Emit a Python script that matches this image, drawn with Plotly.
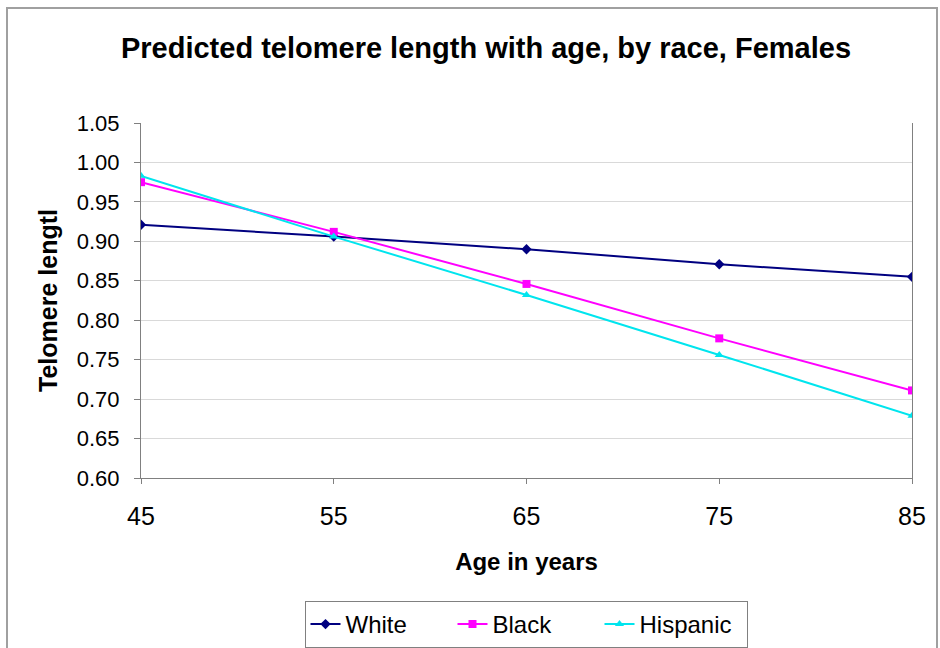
import plotly.graph_objects as go

ages = [45, 55, 65, 75, 85]
white = [0.921, 0.906, 0.890, 0.871, 0.855]
black = [0.975, 0.912, 0.846, 0.777, 0.711]
hispanic = [0.983, 0.906, 0.832, 0.756, 0.679]

y_ticks = [0.60, 0.65, 0.70, 0.75, 0.80, 0.85, 0.90, 0.95, 1.00, 1.05]

W, H = 940, 648
L, R, T, B = 141, 28, 123, 170
pw, ph = W - L - R, H - T - B


def px_x(p):
    return (p - L) / pw


def px_y(p):
    return (H - B - p) / ph


fig = go.Figure()
series = [
    ("White", white, "#000080", "diamond", 8),
    ("Black", black, "#FF00FF", "square", 8),
    ("Hispanic", hispanic, "#00E5EE", "triangle-up", 8),
]
for name, vals, color, sym, size in series:
    fig.add_trace(go.Scatter(
        x=ages, y=vals, name=name, mode="lines+markers",
        line=dict(color=color, width=2),
        marker=dict(symbol=sym, size=size, color=color),
    ))

fig.update_layout(
    width=W, height=H,
    margin=dict(l=L, r=R, t=T, b=B, autoexpand=False),
    paper_bgcolor="white", plot_bgcolor="white",
    font=dict(family="Liberation Sans, Arial, sans-serif", color="black"),
    title=dict(
        text="<b>Predicted telomere length with age, by race, Females</b>",
        x=486 / W, xref="container", xanchor="center",
        y=1 - 48 / H, yref="container", yanchor="middle",
        font=dict(size=29, color="black"),
    ),
    xaxis=dict(
        range=[45, 85], tickvals=ages, ticktext=[str(a) for a in ages],
        showgrid=False, showline=True, linecolor="#808080", linewidth=1,
        ticks="outside", ticklen=5, tickcolor="#808080",
        tickfont=dict(size=25), zeroline=False, automargin=False,
        ticklabelstandoff=11,
        title=dict(text="<b>Age in years</b>", font=dict(size=24), standoff=24),
    ),
    yaxis=dict(
        range=[0.60, 1.05], tickvals=y_ticks,
        ticktext=[f"{v:.2f}" for v in y_ticks],
        showgrid=True, gridcolor="#D9D9D9", gridwidth=1,
        showline=True, linecolor="#808080", linewidth=1, mirror=True,
        ticks="outside", ticklen=6, tickcolor="#808080",
        tickfont=dict(size=22), zeroline=False, automargin=False,
        ticklabelstandoff=10,
        title=dict(text="<b>Telomere lengtl</b>", font=dict(size=25), standoff=12),
    ),
    legend=dict(
        orientation="h", x=526 / W, xref="container", xanchor="center",
        y=1 - 601 / H, yref="container", yanchor="top",
        bordercolor="#808080", borderwidth=1,
        font=dict(size=24), itemwidth=30,
        entrywidth=102, entrywidthmode="pixels",
        bgcolor="white",
    ),
    showlegend=True,
)

# outer chart border
fig.add_shape(
    type="rect", xref="paper", yref="paper",
    x0=px_x(7), x1=px_x(937), y0=px_y(660), y1=px_y(8),
    line=dict(color="#A0A0A0", width=2), fillcolor="rgba(0,0,0,0)",
    layer="below",
)

fig.write_html("out.html")
